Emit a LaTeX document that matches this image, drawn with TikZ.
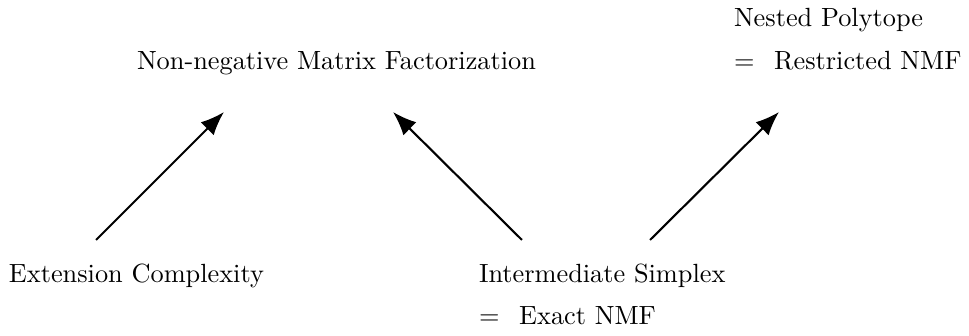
\documentclass[tikz,border=0pt]{standalone}
\usetikzlibrary{arrows.meta}
\begin{document}
\begin{tikzpicture}[x=0.380pt,y=-0.380pt,
  lbl/.style={anchor=base west,inner sep=0pt,outer sep=0pt},
  arr/.style={line width=0.8pt,-{Latex[length=9pt,width=7pt]}}]
\useasboundingbox (0,0) rectangle (969,336);
\node[lbl] (nmf) at (137,70) {Non-negative Matrix Factorization};
\node[lbl] (np) at (734,27) {Nested Polytope};
\node[lbl] (rnmf) at (734,70) {$=$\hspace{7.5pt}Restricted NMF};
\node[lbl] (ec) at (9,283) {Extension Complexity};
\node[lbl] (is) at (479,283) {Intermediate Simplex};
\node[lbl] (enmf) at (479,325) {$=$\hspace{7.5pt}Exact NMF};
\coordinate (a1s) at (96,240);
\coordinate (a1e) at (224,112);
\coordinate (a2s) at (522,240);
\coordinate (a2e) at (393,112);
\coordinate (a3s) at (650,240);
\coordinate (a3e) at (779,112);
\draw[arr] (a1s) -- (a1e);
\draw[arr] (a2s) -- (a2e);
\draw[arr] (a3s) -- (a3e);
\end{tikzpicture}
\end{document}
